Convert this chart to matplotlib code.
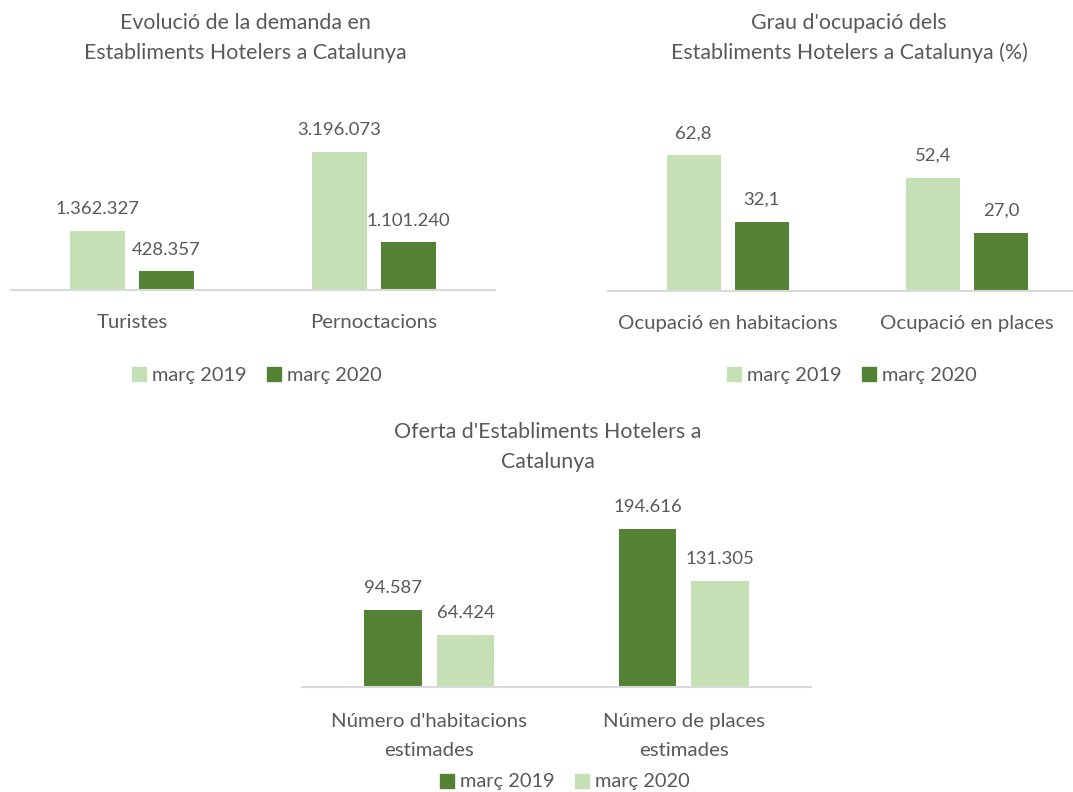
import matplotlib.pyplot as plt
from matplotlib.patches import Patch

plt.rcParams['font.family'] = ['Lato', 'DejaVu Sans']

# chart 1: demand
demand_cats = ['Turistes', 'Pernoctacions']
demand_2019 = [1362327, 3196073]
demand_2020 = [428357, 1101240]

# chart 2: occupancy (%)
occ_cats = ['Ocupació en habitacions', 'Ocupació en places']
occ_2019 = [62.8, 52.4]
occ_2020 = [32.1, 27.0]

# chart 3: supply
supply_cats = ["Número d'habitacions\nestimades", 'Número de places\nestimades']
supply_2019 = [94587, 194616]
supply_2020 = [64424, 131305]

LIGHT = '#C5E0B4'
DARK = '#548235'
GREY = '#595959'
W, H = 1073, 792
TITLE_FS = 15.4
CAT_FS = 14.7
LABEL_FS = 13.3


def fmt_thousands(v):
    return f'{v:,.0f}'.replace(',', '.')


def fmt_comma(v):
    return f'{v:.1f}'.replace('.', ',')


def add_panel(fig, left, right, baseline, top, ymax):
    ax = fig.add_axes([left / W, 1 - baseline / H, (right - left) / W, (baseline - top) / H])
    ax.set_xlim(-0.5, 1.5)
    ax.set_ylim(0, ymax)
    for s in ['top', 'left', 'right']:
        ax.spines[s].set_visible(False)
    ax.spines['bottom'].set_color('#D9D9D9')
    ax.spines['bottom'].set_linewidth(1.5)
    ax.set_yticks([])
    ax.tick_params(axis='x', length=0, pad=17, labelsize=CAT_FS, labelcolor=GREY)
    ax.patch.set_alpha(0)
    return ax


def draw(ax, cats, v1, v2, c1, c2, fmt):
    x = range(len(cats))
    w, off = 0.225, 0.142
    b1 = ax.bar([i - off for i in x], v1, w, color=c1)
    b2 = ax.bar([i + off for i in x], v2, w, color=c2)
    ax.bar_label(b1, labels=[fmt(v) for v in v1], padding=10, fontsize=LABEL_FS, color=GREY)
    ax.bar_label(b2, labels=[fmt(v) for v in v2], padding=10, fontsize=LABEL_FS, color=GREY)
    ax.set_xticks(list(x))
    ax.set_xticklabels(cats, linespacing=1.8)


def legend(fig, cx, cy, c1, c2):
    handles = [Patch(color=c1, label='març 2019'), Patch(color=c2, label='març 2020')]
    fig.legend(handles=handles, loc='center', bbox_to_anchor=(cx / W, 1 - cy / H),
               ncol=2, frameon=False, fontsize=14.4, labelcolor=GREY,
               handlelength=0.7, handleheight=0.7, handletextpad=0.3, columnspacing=1.05)


fig = plt.figure(figsize=(W / 100, H / 100), dpi=100)

ax1 = add_panel(fig, 11, 495, 290, 130, 160 / 43.2e-6)
draw(ax1, demand_cats, demand_2019, demand_2020, LIGHT, DARK, fmt_thousands)
fig.text(245 / W, 1 - 38 / H, 'Evolució de la demanda en\nEstabliments Hotelers a Catalunya',
         ha='center', va='center', fontsize=TITLE_FS, color=GREY, linespacing=1.6)
legend(fig, 257, 376, LIGHT, DARK)

ax2 = add_panel(fig, 608, 1087, 291, 130, 161 / 2.165)
draw(ax2, occ_cats, occ_2019, occ_2020, LIGHT, DARK, fmt_comma)
fig.text(849 / W, 1 - 38 / H, "Grau d'ocupació dels\nEstabliments Hotelers a Catalunya (%)",
         ha='center', va='center', fontsize=TITLE_FS, color=GREY, linespacing=1.6)
legend(fig, 852, 376, LIGHT, DARK)

ax3 = add_panel(fig, 302, 811, 687, 500, 187 / 0.00081)
draw(ax3, supply_cats, supply_2019, supply_2020, DARK, LIGHT, fmt_thousands)
ax3.tick_params(axis='x', pad=19)
fig.text(548 / W, 1 - 447 / H, "Oferta d'Establiments Hotelers a\nCatalunya",
         ha='center', va='center', fontsize=TITLE_FS, color=GREY, linespacing=1.6)
legend(fig, 565, 782, DARK, LIGHT)

fig.savefig('out.png', dpi=100, facecolor='white')
